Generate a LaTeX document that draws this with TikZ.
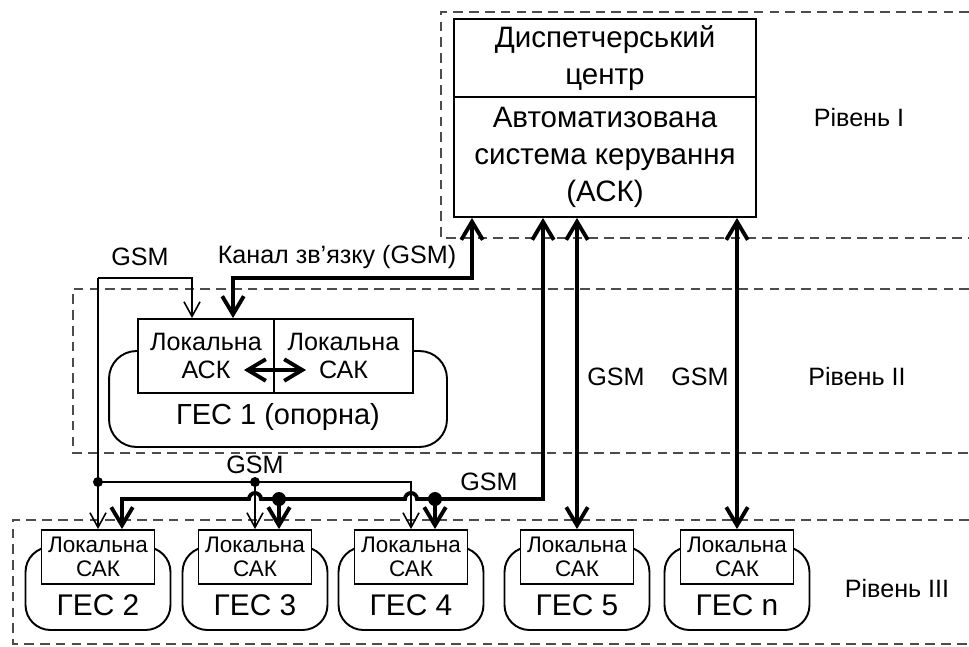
\documentclass[tikz,border=0pt]{standalone}
\usepackage{fontspec}
\setmainfont{Liberation Sans}
\usetikzlibrary{arrows.meta}

\tikzset{
  level/.style={draw=black!70, line width=0.85pt, dash pattern=on 5.5pt off 3.5pt},
  ctrlbox/.style={draw, line width=1.1pt, fill=white, inner sep=0pt, align=center},
  hull/.style={draw, line width=1.1pt, inner sep=0pt, rounded corners=0.5cm},
  gsm/.style={line width=0.9pt},
  bus/.style={line width=2.2pt},
  bigtxt/.style={font=\fontsize{16.8}{21}\selectfont},
  midtxt/.style={font=\fontsize{14.3}{16.4}\selectfont},
  smalltxt/.style={font=\fontsize{12.8}{14}\selectfont},
  gestxt/.style={font=\fontsize{17}{20}\selectfont},
}

\begin{document}
\begin{tikzpicture}[x=0.02cm, y=-0.02cm, >={Straight Barb[length=7pt 1.5, width=7pt 2.4]}]
\useasboundingbox (0,0) rectangle (969,646);

% levels
\draw[level] (969,12) -| (441,238) -- (969,238);
\draw[level] (969,289) -| (73,453) -- (969,453);
\draw[level] (969,520) -| (13,644) -- (969,644);
\node[midtxt] (lvl1) at (859,118) {Рівень I};
\node[midtxt] (lvl2) at (857,377) {Рівень II};
\node[midtxt] (lvl3) at (897,589) {Рівень III};

% dispatcher centre
\node[ctrlbox, bigtxt, minimum width=6.04cm, minimum height=1.56cm] (dc) at (605,58) {Диспетчерський\\центр};
\node[ctrlbox, bigtxt, minimum width=6.04cm, minimum height=2.4cm] (asc) at (605,157) {Автоматизована\\система керування\\(АСК)};

% reference plant
\node[hull, rounded corners=0.55cm, minimum width=6.76cm, minimum height=1.92cm] (hull1) at (278,399) {};
\node[ctrlbox, midtxt, minimum width=2.72cm, minimum height=1.48cm] (lasc) at (206,356) {Локальна\\АСК};
\node[ctrlbox, midtxt, minimum width=2.78cm, minimum height=1.48cm] (lsak) at (343.5,356) {Локальна\\САК};
\node[font=\fontsize{16.5}{20}\selectfont] (ges1) at (278,417) {ГЕС 1 (опорна)};
\draw[bus,<->] ([shift={(-31,14)}]lasc.east) -- ([shift={(33,14)}]lsak.west);

% other plants
\foreach \n/\cx in {2/98, 3/255, 4/411, 5/577, n/737}{
  \node[hull, minimum width=2.9cm, minimum height=1.66cm] (hull\n) at (\cx,588.5) {};
  \node[ctrlbox, smalltxt, minimum width=2.26cm, minimum height=1.08cm] (loc\n) at (\cx,557) {Локальна\\САК};
  \node[gestxt] (ges\n) at (\cx,605) {ГЕС \n};
}

\coordinate (k1) at (472,278);
\coordinate (k2) at (233,278);
\coordinate (g0) at (98,278);
\coordinate (gsmA) at (192,278);
\coordinate (g1) at (98,482);
\coordinate (b5) at (543,499);
\coordinate (t2) at ([xshift=0.48cm]loc2.north);
\coordinate (t3) at ([xshift=0.48cm]loc3.north);
\coordinate (t4) at ([xshift=0.48cm]loc4.north);

% GSM links
\draw[bus,<->] (asc.south -| k1) -- (k1) -- (k2) -- (k2 |- lasc.north);
\draw[gsm,->] (g0) -- (gsmA) -- (gsmA |- lasc.north);
\draw[gsm,->] (g0) -- (loc2.north);
\draw[gsm,->] (g1) -| (loc4.north);
\draw[gsm,->] (loc3.north |- g1) -- (loc3.north);
\fill (g1) circle[radius=0.1cm] (loc3.north |- g1) circle[radius=0.1cm];

\draw[bus,<->] (asc.south -| b5) -- (b5) -- ([xshift=0.12cm]loc4.north |- b5)
  arc[start angle=0, end angle=180, radius=0.12cm] -- ([xshift=0.12cm]loc3.north |- b5)
  arc[start angle=0, end angle=180, radius=0.12cm] -- (t2 |- b5) -- (t2);
\draw[bus,->] (t3 |- b5) -- (t3);
\draw[bus,->] (t4 |- b5) -- (t4);
\fill (t3 |- b5) circle[radius=0.14cm] (t4 |- b5) circle[radius=0.14cm];

\draw[bus,<->] (asc.south -| loc5.north) -- (loc5.north);
\draw[bus,<->] (asc.south -| locn.north) -- (locn.north);

\node[midtxt] (gsm1) at (140,257) {GSM};
\node[midtxt] (kanal) at (337,257) {Канал зв’язку (GSM)};
\node[midtxt] (gsm2) at (255,465) {GSM};
\node[midtxt] (gsm3) at (489,482) {GSM};
\node[midtxt] (gsm4) at (616,377) {GSM};
\node[midtxt] (gsm5) at (700,377) {GSM};
\end{tikzpicture}
\end{document}
